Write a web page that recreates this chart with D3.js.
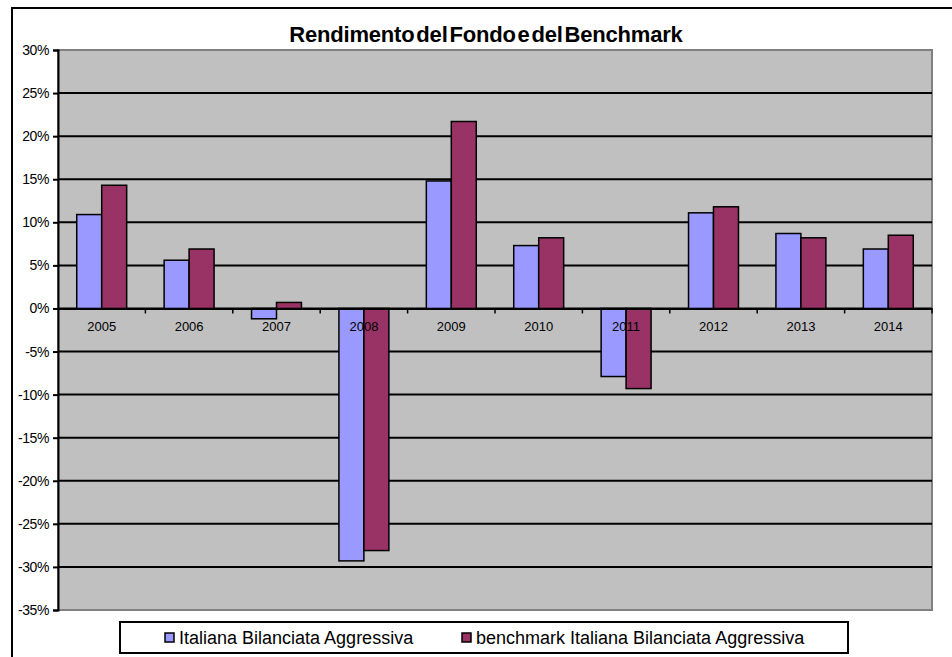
<!DOCTYPE html>
<html>
<head>
<meta charset="utf-8">
<script src="https://cdn.jsdelivr.net/npm/d3@7"></script>
<style>
  html, body { margin: 0; background: #fff; overflow: hidden; }
  svg { display: block; }
  text { font-family: 'Liberation Sans', Arial, sans-serif; fill: #000; }
</style>
</head>
<body>
<div id="chart"></div>
<script>
const years = ['2005','2006','2007','2008','2009','2010','2011','2012','2013','2014']
const fondo = [10.9, 5.6, -1.2, -29.3, 14.8, 7.3, -7.9, 11.1, 8.7, 6.9]
const benchmark = [14.3, 6.9, 0.7, -28.1, 21.7, 8.2, -9.3, 11.8, 8.2, 8.5]
const seriesNames = ['Italiana Bilanciata Aggressiva', 'benchmark Italiana Bilanciata Aggressiva']
const colors = ['#9999FF', '#993366']
const yTicks = [-35, -30, -25, -20, -15, -10, -5, 0, 5, 10, 15, 20, 25, 30]

const width = 952
const height = 657
const plot = { left: 58, right: 932, top: 50, bottom: 610 }

const svg = d3.select('#chart')
  .append('svg')
  .attr('width', width)
  .attr('height', height)

// outer chart frame: only top and left edges are inside the picture
svg.append('path')
  .attr('d', `M12,${height + 10} V8 H${width + 10}`)
  .attr('fill', 'none')
  .attr('stroke', '#000')
  .attr('stroke-width', 2)

svg.append('text')
  .attr('x', 486)
  .attr('y', 42)
  .attr('text-anchor', 'middle')
  .style('font-size', '22px')
  .style('font-weight', 'bold')
  .style('letter-spacing', '-0.2px')
  .style('word-spacing', '-4px')
  .text('Rendimento del Fondo e del Benchmark')

const x0 = d3.scaleBand()
  .domain(years)
  .range([plot.left, plot.right])

const x1 = d3.scaleBand()
  .domain([0, 1])
  .range([0, x0.bandwidth()])
  .paddingOuter(0.75)

const y = d3.scaleLinear()
  .domain([-35, 30])
  .range([plot.bottom, plot.top])

// plot background
svg.append('rect')
  .attr('x', plot.left).attr('y', plot.top)
  .attr('width', plot.right - plot.left)
  .attr('height', plot.bottom - plot.top)
  .attr('fill', '#C0C0C0')
  .attr('stroke', '#808080')
  .attr('stroke-width', 2)

// gridlines
svg.append('g')
  .selectAll('line')
  .data(yTicks.filter(d => d > -35 && d < 30))
  .enter()
  .append('line')
  .attr('x1', plot.left).attr('x2', plot.right)
  .attr('y1', d => y(d)).attr('y2', d => y(d))
  .style('stroke', '#000')
  .style('stroke-width', 2)

// y axis
const yAxis = d3.axisLeft(y)
  .tickValues(yTicks)
  .tickFormat(d => d + '%')
  .tickSize(5)
  .tickPadding(4)

const gy = svg.append('g')
  .attr('transform', `translate(${plot.left},0)`)
  .call(yAxis)
gy.select('.domain').attr('stroke', '#000').attr('stroke-width', 2)
gy.selectAll('.tick line').attr('stroke', '#000').attr('stroke-width', 2)
gy.selectAll('.tick text')
  .style('font-size', '14px')
  .style('letter-spacing', '-0.4px')
  .attr('fill', '#000')

// bars
const rows = years.map((yr, i) => ({ year: yr, values: [fondo[i], benchmark[i]] }))

svg.append('g')
  .selectAll('g')
  .data(rows)
  .enter()
  .append('g')
  .attr('transform', d => `translate(${x0(d.year)},0)`)
  .selectAll('rect')
  .data(d => d.values.map((v, i) => ({ v, i })))
  .enter()
  .append('rect')
  .attr('x', d => x1(d.i))
  .attr('width', x1.bandwidth())
  .attr('y', d => y(Math.max(0, d.v)))
  .attr('height', d => Math.abs(y(d.v) - y(0)))
  .attr('fill', d => colors[d.i])
  .attr('stroke', '#000')
  .attr('stroke-width', 1.5)

// x axis at zero
const xAxis = d3.axisBottom(x0)
  .tickSize(0)
  .tickPadding(0)

const gx = svg.append('g')
  .attr('transform', `translate(0,${y(0)})`)
  .call(xAxis)
gx.select('.domain').attr('stroke', '#000').attr('stroke-width', 2)
gx.selectAll('.tick text')
  .attr('dy', '1.75em')
  .style('font-size', '13px')
  .attr('fill', '#000')

// small ticks between categories
svg.append('g')
  .selectAll('line')
  .data(years.slice(1).concat(['end']))
  .enter()
  .append('line')
  .attr('x1', d => d === 'end' ? plot.right : x0(d))
  .attr('x2', d => d === 'end' ? plot.right : x0(d))
  .attr('y1', y(0))
  .attr('y2', y(0) + 5)
  .style('stroke', '#000')
  .style('stroke-width', 1.5)

// legend
const legend = svg.append('g')
legend.append('rect')
  .attr('x', 120).attr('y', 622)
  .attr('width', 728).attr('height', 31)
  .attr('fill', '#fff')
  .attr('stroke', '#000')
  .attr('stroke-width', 2)

const legendX = [165, 462]
seriesNames.forEach((name, i) => {
  legend.append('rect')
    .attr('x', legendX[i]).attr('y', 633)
    .attr('width', 9).attr('height', 9)
    .attr('fill', colors[i])
    .attr('stroke', '#000')
    .attr('stroke-width', 1.5)
  legend.append('text')
    .attr('x', legendX[i] + 14)
    .attr('y', 644)
    .style('font-size', '18px')
    .text(name)
})
</script>
</body>
</html>
